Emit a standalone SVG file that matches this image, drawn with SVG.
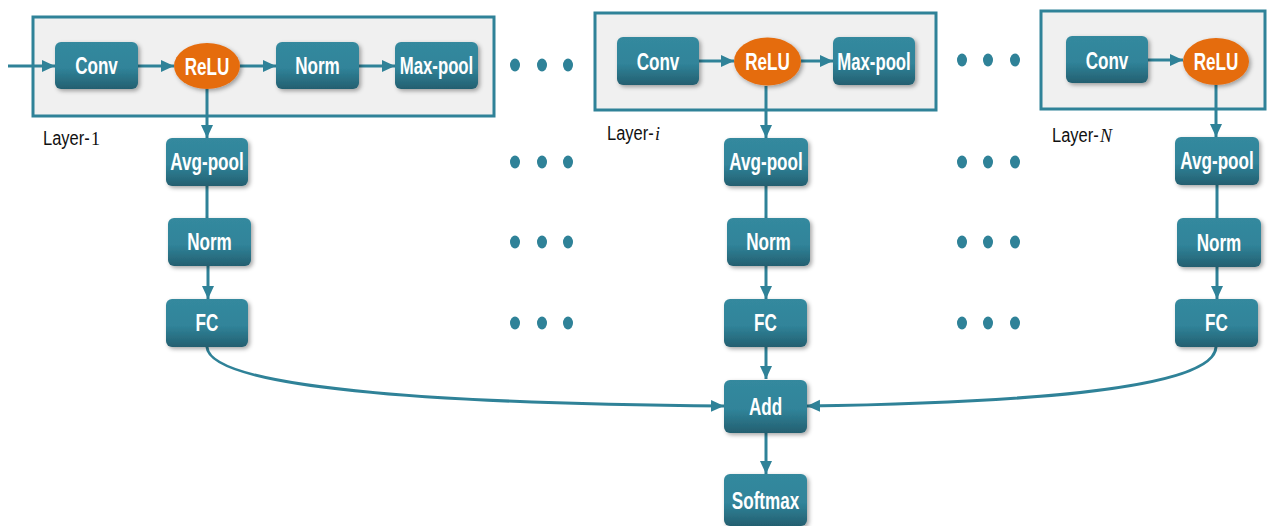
<svg xmlns="http://www.w3.org/2000/svg" width="1268" height="526" viewBox="0 0 1268 526">
<style>
.layer{fill:#f0f0f0;stroke:#2f8298;stroke-width:3}
.node rect{fill:url(#ng);filter:url(#sh)}
.node ellipse{fill:#e56c0f;filter:url(#sh)}
.node text{font-family:"Liberation Sans",Arial,sans-serif;font-weight:bold;font-size:18px;fill:#ffffff;text-anchor:middle}
.lbl{font-family:"Liberation Sans",Arial,sans-serif;font-size:17px;fill:#111111}
.m{font-family:"Liberation Serif","Times New Roman",serif;font-size:18px;fill:#111111}
.c{fill:none;stroke:#2f8298;stroke-width:3}
.a{marker-end:url(#ah)}
.dot{fill:#2f8298}
</style>
<defs>
<linearGradient id="ng" x1="0" y1="0" x2="0" y2="1">
<stop offset="0" stop-color="#34899e"/>
<stop offset="0.55" stop-color="#30849a"/>
<stop offset="1" stop-color="#245f70"/>
</linearGradient>
<filter id="sh" x="-20%" y="-20%" width="150%" height="150%">
<feDropShadow dx="2" dy="2" stdDeviation="2" flood-color="#000" flood-opacity="0.35"/>
</filter>
<marker id="ah" markerUnits="userSpaceOnUse" markerWidth="14" markerHeight="14" refX="13" refY="7" orient="auto" viewBox="0 0 14 14">
<path d="M0,1 L13,7 L0,13 z" fill="#2f8298"/>
</marker>
</defs>

<g id="layer-boxes">
<rect id="layer1-box" class="layer" x="33" y="17" width="461" height="99"/>
<rect id="layeri-box" class="layer" x="595" y="13" width="341" height="97"/>
<rect id="layerN-box" class="layer" x="1041" y="11" width="224" height="98"/>
</g>

<g id="labels">
<text class="lbl" transform="translate(43,145) scale(0.97,1.15)">Layer-</text><text class="m" x="91" y="145">1</text>
<text class="lbl" transform="translate(607,140) scale(0.97,1.15)">Layer-</text><text class="m" x="655" y="140" font-style="italic">i</text>
<text class="lbl" transform="translate(1052,142) scale(0.97,1.15)">Layer-</text><text class="m" x="1100" y="142" font-style="italic">N</text>
</g>

<g id="connectors">
<path class="c a" d="M8,66 L55,66"/>
<path class="c a" d="M138,66 L174,66"/>
<path class="c a" d="M240,66 L276,66"/>
<path class="c a" d="M359,66 L395,66"/>
<path class="c a" d="M207,89 L207,138"/>
<path class="c" d="M207,186 L207,218"/>
<path class="c a" d="M208,266 L208,299"/>
<path class="c a" d="M207,347 C210,392 480,404 724,406"/>

<path class="c a" d="M699,61 L734,61"/>
<path class="c a" d="M801,61 L833,61"/>
<path class="c a" d="M766,86 L766,138"/>
<path class="c" d="M766,186 L766,218"/>
<path class="c a" d="M766,266 L766,299"/>
<path class="c a" d="M766,347 L766,379"/>
<path class="c a" d="M766,433 L766,474"/>

<path class="c a" d="M1148,60 L1183,60"/>
<path class="c a" d="M1216,85 L1216,137"/>
<path class="c" d="M1217,185 L1217,218"/>
<path class="c a" d="M1217,267 L1217,299"/>
<path class="c a" d="M1216,347 C1214,392 1000,403 807,406"/>
</g>

<g id="l1-conv" class="node"><rect x="55" y="42" width="83" height="47" rx="6"/><text transform="translate(96.5,74) scale(0.95,1.28)">Conv</text></g>
<g id="l1-relu" class="node"><ellipse cx="207" cy="66" rx="33" ry="23"/><text transform="translate(207,74.5) scale(0.95,1.28)">ReLU</text></g>
<g id="l1-norm" class="node"><rect x="276" y="42" width="83" height="47" rx="6"/><text transform="translate(317.5,74) scale(0.95,1.28)">Norm</text></g>
<g id="l1-maxpool" class="node"><rect x="395" y="42" width="83" height="47" rx="6"/><text transform="translate(436.5,74) scale(0.93,1.28)">Max-pool</text></g>
<g id="l1-avgpool" class="node"><rect x="166" y="138" width="82" height="48" rx="6"/><text transform="translate(207,170) scale(0.95,1.28)">Avg-pool</text></g>
<g id="l1-norm2" class="node"><rect x="168" y="218" width="83" height="48" rx="6"/><text transform="translate(209.5,250) scale(0.95,1.28)">Norm</text></g>
<g id="l1-fc" class="node"><rect x="166" y="299" width="82" height="48" rx="6"/><text transform="translate(207,331) scale(0.95,1.28)">FC</text></g>

<g id="li-conv" class="node"><rect x="617" y="37" width="82" height="48" rx="6"/><text transform="translate(658,69.5) scale(0.95,1.28)">Conv</text></g>
<g id="li-relu" class="node"><ellipse cx="767.5" cy="61.5" rx="33.5" ry="24"/><text transform="translate(767.5,70) scale(0.95,1.28)">ReLU</text></g>
<g id="li-maxpool" class="node"><rect x="833" y="37" width="82" height="48" rx="6"/><text transform="translate(874,69.5) scale(0.93,1.28)">Max-pool</text></g>
<g id="li-avgpool" class="node"><rect x="724" y="138" width="84" height="48" rx="6"/><text transform="translate(766,170) scale(0.95,1.28)">Avg-pool</text></g>
<g id="li-norm" class="node"><rect x="727" y="218" width="83" height="48" rx="6"/><text transform="translate(768.5,250) scale(0.95,1.28)">Norm</text></g>
<g id="li-fc" class="node"><rect x="724" y="299" width="83" height="48" rx="6"/><text transform="translate(765.5,331) scale(0.95,1.28)">FC</text></g>
<g id="add" class="node"><rect x="724" y="380" width="83" height="53" rx="6"/><text transform="translate(765.5,415) scale(0.95,1.28)">Add</text></g>
<g id="softmax" class="node"><rect x="724" y="474" width="83" height="52" rx="6"/><text transform="translate(765.5,509) scale(0.95,1.28)">Softmax</text></g>

<g id="lN-conv" class="node"><rect x="1066" y="36" width="82" height="47" rx="6"/><text transform="translate(1107,68.5) scale(0.95,1.28)">Conv</text></g>
<g id="lN-relu" class="node"><ellipse cx="1216" cy="61.5" rx="33" ry="23.5"/><text transform="translate(1216,70) scale(0.95,1.28)">ReLU</text></g>
<g id="lN-avgpool" class="node"><rect x="1175" y="137" width="84" height="48" rx="6"/><text transform="translate(1217,169) scale(0.95,1.28)">Avg-pool</text></g>
<g id="lN-norm" class="node"><rect x="1177" y="218" width="84" height="49" rx="6"/><text transform="translate(1219,251) scale(0.95,1.28)">Norm</text></g>
<g id="lN-fc" class="node"><rect x="1175" y="299" width="83" height="48" rx="6"/><text transform="translate(1216.5,331) scale(0.95,1.28)">FC</text></g>

<g id="ellipsis-1">
<ellipse class="dot" cx="515" cy="65" rx="5" ry="6.5"/><ellipse class="dot" cx="542" cy="65" rx="5" ry="6.5"/><ellipse class="dot" cx="568" cy="65" rx="5" ry="6.5"/>
<ellipse class="dot" cx="515" cy="162" rx="5" ry="6.5"/><ellipse class="dot" cx="542" cy="162" rx="5" ry="6.5"/><ellipse class="dot" cx="568" cy="162" rx="5" ry="6.5"/>
<ellipse class="dot" cx="515" cy="242" rx="5" ry="6.5"/><ellipse class="dot" cx="542" cy="242" rx="5" ry="6.5"/><ellipse class="dot" cx="568" cy="242" rx="5" ry="6.5"/>
<ellipse class="dot" cx="515" cy="323" rx="5" ry="6.5"/><ellipse class="dot" cx="542" cy="323" rx="5" ry="6.5"/><ellipse class="dot" cx="568" cy="323" rx="5" ry="6.5"/>
</g>
<g id="ellipsis-2">
<ellipse class="dot" cx="962" cy="60" rx="5" ry="6.5"/><ellipse class="dot" cx="988" cy="60" rx="5" ry="6.5"/><ellipse class="dot" cx="1015" cy="60" rx="5" ry="6.5"/>
<ellipse class="dot" cx="962" cy="162" rx="5" ry="6.5"/><ellipse class="dot" cx="988" cy="162" rx="5" ry="6.5"/><ellipse class="dot" cx="1015" cy="162" rx="5" ry="6.5"/>
<ellipse class="dot" cx="962" cy="242" rx="5" ry="6.5"/><ellipse class="dot" cx="988" cy="242" rx="5" ry="6.5"/><ellipse class="dot" cx="1015" cy="242" rx="5" ry="6.5"/>
<ellipse class="dot" cx="962" cy="323" rx="5" ry="6.5"/><ellipse class="dot" cx="988" cy="323" rx="5" ry="6.5"/><ellipse class="dot" cx="1015" cy="323" rx="5" ry="6.5"/>
</g>
</svg>
